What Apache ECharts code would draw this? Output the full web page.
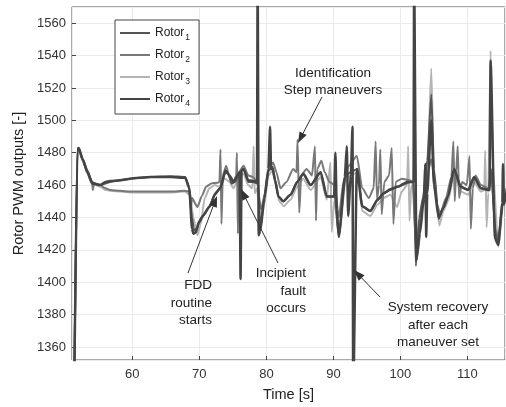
<!DOCTYPE html>
<html>
<head>
<meta charset="utf-8">
<script src="https://cdn.jsdelivr.net/npm/echarts@6/dist/echarts.min.js"></script>
<style>
  html, body { margin: 0; padding: 0; background: #fff; }
  #chart { width: 506px; height: 407px; }
</style>
</head>
<body>
<div id="chart"></div>
<script>
// series names
var rotorNames = ['Rotor1', 'Rotor2', 'Rotor3', 'Rotor4'];

// [time s, PWM]
var rotor1 = [
  [51.35, 1340], [51.8, 1482], [52.0, 1483], [52.6, 1476], [53.3, 1469], [54.0, 1462],
  [54.5, 1461], [55.2, 1460], [56.0, 1461], [56.7, 1462], [58.2, 1463], [59.7, 1464],
  [62.7, 1465], [65.7, 1465.5], [67.9, 1465], [68.4, 1460], [68.9, 1440], [69.2, 1432],
  [69.6, 1433], [70.0, 1437], [70.6, 1441], [71.5, 1447], [72.3, 1454], [73.1, 1458],
  [73.9, 1468], [74.3, 1467], [74.8, 1461], [75.3, 1462], [76.0, 1468], [76.6, 1470],
  [77.3, 1462], [78.0, 1462], [78.8, 1461], [79.1, 1433], [79.6, 1450], [80.3, 1469],
  [80.9, 1471], [81.3, 1463], [81.8, 1453], [82.5, 1450], [83.6, 1454], [84.6, 1462],
  [85.5, 1467], [86.6, 1460], [88.1, 1468], [89.0, 1453], [90.2, 1453], [90.8, 1428],
  [91.8, 1465], [92.5, 1468], [93.6, 1470], [94.3, 1447], [95.5, 1444], [96.6, 1451],
  [97.5, 1455], [98.5, 1457], [99.6, 1459], [101.5, 1462], [102.0, 1462], [102.3, 1410],
  [102.8, 1440], [103.4, 1453], [104.0, 1475], [104.6, 1516], [105.0, 1470], [105.7, 1439],
  [106.4, 1446], [107.1, 1453], [108.0, 1470], [109.0, 1459], [110.1, 1457], [111.0, 1465],
  [112.0, 1458], [113.2, 1457], [113.5, 1470], [114.2, 1430], [114.6, 1425], [115.3, 1450],
  [115.8, 1456]
];
var rotor2 = [
  [51.35, 1340], [51.8, 1481], [52.0, 1483], [52.6, 1475], [53.3, 1468], [54.0, 1462],
  [54.1, 1457], [54.3, 1461], [55.2, 1460], [56.0, 1458], [56.7, 1457], [58.2, 1456.5],
  [59.7, 1456], [62.7, 1456], [65.7, 1456], [67.8, 1456.5], [68.6, 1456], [68.75, 1447],
  [68.9, 1452], [69.7, 1446.5], [70.4, 1453.5], [71.0, 1459], [71.8, 1461], [72.7, 1461.5],
  [73.0, 1462], [73.15, 1482], [73.3, 1436], [73.5, 1466], [74.0, 1472], [74.5, 1465],
  [75.0, 1461], [75.5, 1466], [75.6, 1480], [75.75, 1430], [75.9, 1468], [76.6, 1472],
  [77.3, 1466], [78.0, 1465], [78.6, 1462], [79.2, 1445], [79.8, 1455], [80.4, 1470],
  [81.0, 1474], [81.5, 1468], [82.1, 1458], [83.0, 1462], [84.0, 1470], [84.5, 1468],
  [84.65, 1488], [84.9, 1443], [85.2, 1466], [86.0, 1470], [86.8, 1466], [87.25, 1484],
  [87.4, 1438], [87.6, 1470], [88.2, 1475], [88.7, 1468], [89.4, 1462], [90.2, 1460],
  [90.8, 1440], [91.5, 1462], [92.3, 1472], [93.5, 1478], [94.3, 1458], [95.3, 1452],
  [96.0, 1458], [96.3, 1487], [96.5, 1451], [96.8, 1460], [97.0, 1482], [97.2, 1442],
  [97.6, 1462], [98.3, 1466], [98.7, 1483], [98.95, 1436], [99.3, 1462], [100.2, 1464],
  [101.4, 1463], [101.8, 1462], [102.4, 1418], [103.3, 1450], [104.2, 1470], [104.6, 1476],
  [105.5, 1448], [105.9, 1442], [106.8, 1452], [107.6, 1465], [107.9, 1487], [108.1, 1450],
  [108.3, 1468], [108.55, 1484], [108.75, 1452], [109.2, 1462], [109.9, 1460], [110.3, 1478],
  [110.5, 1433], [110.8, 1458], [111.2, 1466], [112.0, 1460], [113.2, 1458], [113.5, 1470],
  [114.2, 1432], [114.6, 1428], [115.3, 1450], [115.8, 1458]
];
var rotor3 = [
  [51.35, 1340], [51.8, 1481], [52.0, 1482], [52.6, 1475], [53.3, 1467], [54.0, 1461],
  [55.2, 1459], [56.0, 1457], [56.7, 1456.5], [58.2, 1456], [59.7, 1455.5], [62.7, 1455.5],
  [65.7, 1455.5], [67.8, 1456], [68.6, 1454], [69.1, 1440], [69.7, 1429], [70.2, 1436],
  [70.8, 1452], [71.5, 1458], [72.3, 1460], [73.0, 1459], [73.8, 1464], [74.5, 1462],
  [75.1, 1458], [76.0, 1466], [76.6, 1467], [77.3, 1460], [77.9, 1458], [78.1, 1484],
  [78.25, 1455], [78.6, 1458], [79.1, 1436], [79.7, 1448], [80.3, 1466], [80.9, 1469],
  [81.4, 1460], [81.9, 1450], [82.6, 1447], [83.6, 1451], [84.6, 1459], [85.5, 1464],
  [86.6, 1457], [88.1, 1465], [89.0, 1451], [89.55, 1474], [89.75, 1431], [90.1, 1450],
  [90.9, 1430], [91.8, 1462], [92.5, 1466], [93.6, 1468], [94.3, 1444], [95.5, 1441],
  [96.6, 1448], [97.5, 1452], [98.5, 1454], [99.5, 1446.5], [100.2, 1456], [101.0, 1460],
  [101.15, 1484], [101.35, 1438], [101.6, 1459], [101.9, 1460], [102.4, 1413], [103.4, 1450],
  [104.1, 1478], [104.6, 1532], [105.0, 1468], [105.8, 1435], [106.4, 1444], [107.1, 1450],
  [108.0, 1467], [109.0, 1456], [110.1, 1454], [111.0, 1462], [112.0, 1456], [112.5, 1457],
  [112.65, 1481], [112.85, 1434], [113.1, 1455], [113.45, 1543], [113.8, 1470], [114.6, 1422],
  [115.3, 1447], [115.8, 1455]
];
var rotor4 = [
  [51.35, 1340], [51.8, 1482], [52.0, 1483], [52.6, 1476], [53.3, 1468], [54.0, 1461],
  [55.2, 1460], [56.0, 1462], [56.7, 1462.5], [58.2, 1463], [59.7, 1464], [62.7, 1465],
  [65.7, 1465], [67.9, 1464.5], [68.5, 1458], [68.9, 1433], [69.1, 1430], [69.5, 1431],
  [69.9, 1437], [70.5, 1441], [71.5, 1446.5], [72.4, 1455], [73.1, 1458], [73.9, 1469],
  [74.5, 1466], [75.1, 1462], [76.0, 1468], [76.15, 1402], [76.3, 1469], [76.6, 1470],
  [77.3, 1463], [78.6, 1462], [78.7, 1600], [78.75, 1600], [78.85, 1429], [79.1, 1432],
  [79.7, 1452], [80.3, 1470], [80.55, 1496], [80.7, 1470], [80.9, 1471], [81.3, 1463],
  [81.8, 1453], [82.5, 1450], [83.6, 1454], [84.6, 1462], [85.5, 1467], [86.6, 1460],
  [88.1, 1468], [89.0, 1453], [90.1, 1453], [90.3, 1480], [90.5, 1445], [90.8, 1428],
  [91.7, 1465], [92.0, 1484], [92.2, 1441], [92.6, 1466], [92.85, 1496], [92.95, 1330],
  [93.5, 1470], [94.3, 1447], [95.5, 1444], [96.6, 1451], [97.5, 1455], [98.5, 1457.5],
  [99.6, 1459], [101.0, 1462], [101.95, 1462], [102.05, 1600], [102.1, 1600], [102.4, 1414],
  [102.9, 1430], [103.5, 1452], [103.7, 1473], [103.85, 1428], [104.0, 1455], [104.6, 1500],
  [105.0, 1460], [105.7, 1440], [106.4, 1446], [107.1, 1453], [108.0, 1470], [109.0, 1459],
  [110.1, 1457], [111.0, 1465], [112.0, 1458], [113.3, 1457], [113.45, 1537], [114.1, 1427],
  [114.6, 1423], [115.2, 1449], [115.3, 1473], [115.45, 1448], [115.8, 1455]
];

var rotorData = [rotor1, rotor2, rotor3, rotor4];
var rotorColors = ['#555555', '#787878', '#b4b4b4', '#444444'];
var rotorWidths = [2, 2, 2, 2.5];
var rotorZ = [3, 2, 1, 4];

var font = 'Liberation Sans, Arial, Helvetica, sans-serif';

// arrow = line + filled head, in pixel coords
function arrow(x1, y1, x2, y2) {
  var a = Math.atan2(y2 - y1, x2 - x1);
  var len = 11, hw = 4;
  var bx = x2 - len * Math.cos(a), by = y2 - len * Math.sin(a);
  var nx = -Math.sin(a) * hw, ny = Math.cos(a) * hw;
  return [
    { type: 'line', shape: { x1: x1, y1: y1, x2: bx, y2: by }, style: { stroke: '#333', lineWidth: 1 }, z: 100 },
    { type: 'polygon', shape: { points: [[x2, y2], [bx + nx, by + ny], [bx - nx, by - ny]] }, style: { fill: '#333' }, z: 100 }
  ];
}
function label(x, y, text, align) {
  return { type: 'text', x: x, y: y, z: 100,
    style: { text: text, fill: '#222', font: '13.5px ' + font, align: align || 'left', verticalAlign: 'middle', lineHeight: 17.5 } };
}

var graphics = [].concat(
  label(333, 82, 'Identification\nStep maneuvers', 'center'),
  arrow(322, 97, 298, 143),
  label(212, 303, 'FDD\nroutine\nstarts', 'right'),
  arrow(188, 273, 217, 196),
  label(306, 291, 'Incipient\nfault\noccurs', 'right'),
  arrow(278, 263, 241, 189),
  label(438, 325, 'System recovery\nafter each\nmaneuver set', 'center'),
  arrow(380, 297, 354, 270)
);

var chart = echarts.init(document.getElementById('chart'));
chart.setOption({
  animation: false,
  backgroundColor: '#fff',
  grid: { left: 72, right: 1, top: 7, bottom: 45, show: true, borderColor: '#555', borderWidth: 1 },
  legend: {
    orient: 'vertical', left: 115, top: 20,
    data: rotorNames,
    icon: 'rect',
    backgroundColor: '#fff', borderColor: '#444', borderWidth: 1,
    padding: [7, 9, 6, 5], itemGap: 7, itemWidth: 30, itemHeight: 2,
    formatter: function (n) { return 'Rotor{s|' + n.slice(5) + '}'; },
    textStyle: { fontFamily: font, fontSize: 12, color: '#222',
      rich: { s: { fontFamily: font, fontSize: 8.5, color: '#222', padding: [9, 0, 0, 1] } } }
  },
  xAxis: {
    type: 'value', min: 51, max: 115.6, splitNumber: 5,
    name: 'Time [s]', nameLocation: 'middle', nameGap: 27,
    nameTextStyle: { fontFamily: font, fontSize: 14.5, color: '#222' },
    axisLine: { show: false },
    axisTick: { show: true, inside: true, length: 4, lineStyle: { color: '#444' } },
    axisLabel: { fontFamily: font, fontSize: 13, color: '#333', margin: 8, showMinLabel: false, showMaxLabel: false,
      formatter: function (v) { return String(v); } },
    splitLine: { show: true, lineStyle: { color: '#ebebeb', width: 1 } }
  },
  yAxis: {
    type: 'value', min: 1352, max: 1570, splitNumber: 10,
    name: 'Rotor PWM outputs [-]', nameLocation: 'middle', nameGap: 44,
    nameTextStyle: { fontFamily: font, fontSize: 14.5, color: '#222' },
    axisLine: { show: false },
    axisTick: { show: true, inside: true, length: 4, lineStyle: { color: '#444' } },
    axisLabel: { fontFamily: font, fontSize: 13, color: '#333', margin: 6, showMinLabel: false, showMaxLabel: false,
      formatter: function (v) { return String(v); } },
    splitLine: { show: true, lineStyle: { color: '#ebebeb', width: 1 } }
  },
  series: rotorNames.map(function (n, i) {
    return {
      name: n, type: 'line', data: rotorData[i], symbol: 'none', clip: true,
      smooth: 0.2, smoothMonotone: 'x', z: rotorZ[i],
      lineStyle: { color: rotorColors[i], width: rotorWidths[i] },
      itemStyle: { color: rotorColors[i] }
    };
  }),
  graphic: graphics
});

window.addEventListener('resize', function () { chart.resize(); });
</script>
</body>
</html>
